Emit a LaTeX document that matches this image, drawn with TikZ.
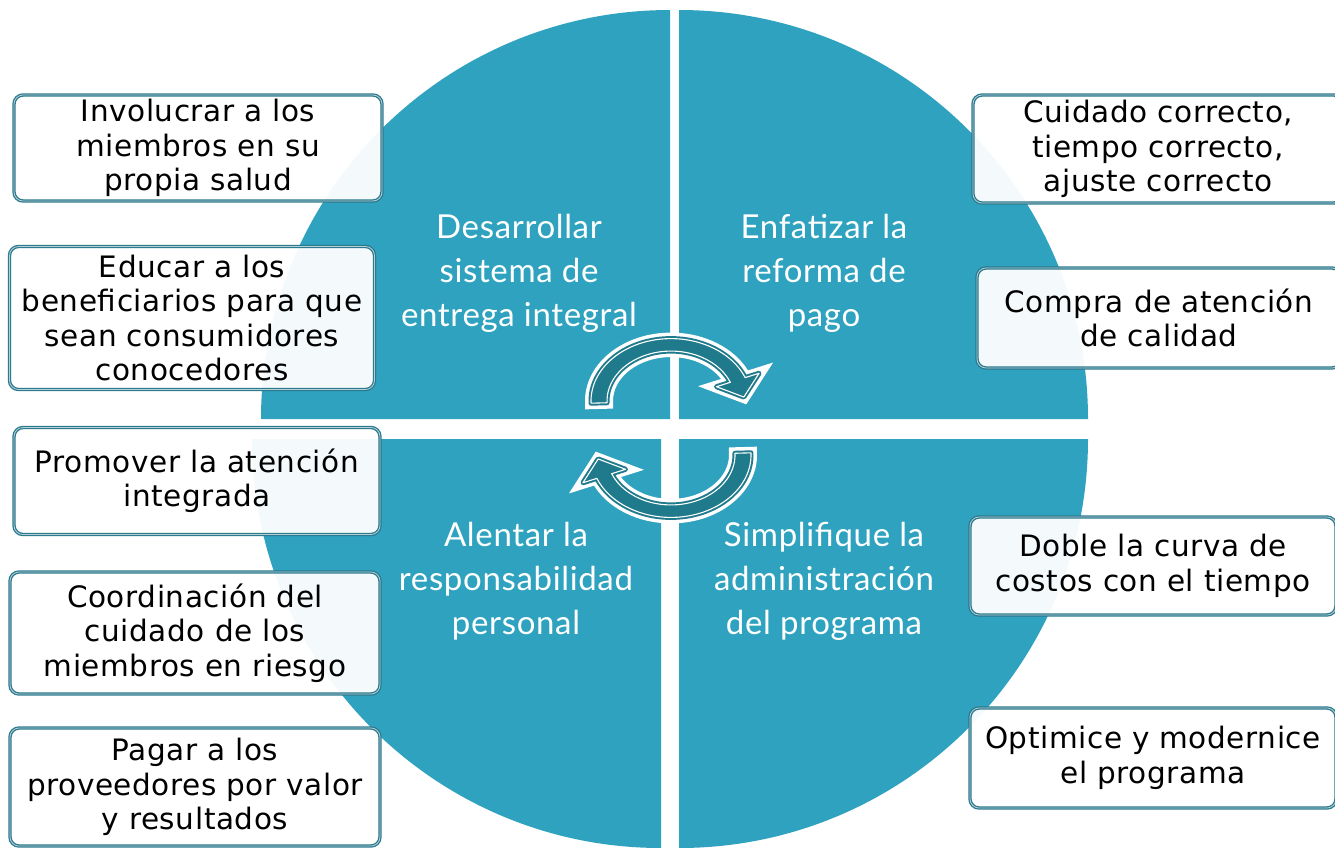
\documentclass[tikz,border=0pt]{standalone}
\usepackage{fontspec}
\setmainfont{DejaVu Sans}[LetterSpace=2]
\newfontfamily\quadfamily{Lato}[LetterSpace=2]

\definecolor{quadteal}{RGB}{46,162,190}
\definecolor{arrowteal}{RGB}{31,122,140}
\definecolor{boxedge}{RGB}{44,122,142}

\tikzset{
    turn/.pic={
        \path[yscale=-0.78, line join=round,
            preaction={draw=white, fill=white, line width=12pt},
            fill=arrowteal, draw=arrowteal, line width=5pt,
            postaction={draw=white, line width=1.1pt}]
            (182:80) arc[start angle=182, end angle=22, radius=80]
            -- (22:95) -- (4:73) -- (22:49) -- (22:64)
            arc[start angle=22, end angle=182, radius=64] -- cycle;
    }
}

\begin{document}
\begin{tikzpicture}[
            x = 1pt, y = -1pt, % pixel grid, y going down
            quad/.style = {fill = quadteal},
            quadlabel/.style = {
                text = white,
                align = center,
                font = \quadfamily\fontsize{33}{44}\selectfont
            },
            box/.style = {
                draw = boxedge,
                double = boxedge!35,
                double distance = 0.8pt,
                line width = 1.3pt,
                rounded corners = 9pt,
                fill = white,
                fill opacity = 0.95,
                text opacity = 1,
                inner sep = 0pt,
                align = center,
                font = \fontsize{29.5}{34.5}\selectfont
            }
        ]

        \useasboundingbox (0,0) rectangle (1335,847);

        % four quarters of the wheel
        \fill[quad] (670,419) -- ++(-409,0) arc[start angle=180, end angle=270, radius=409] -- cycle;
        \fill[quad] (679,419) -- ++(0,-409) arc[start angle=270, end angle=360, radius=409] -- cycle;
        \fill[quad] (679,439) -- ++(409,0) arc[start angle=0, end angle=90, radius=409] -- cycle;
        \fill[quad] (661,439) -- ++(0,409) arc[start angle=90, end angle=180, radius=409] -- cycle;

        \node[quadlabel] (dev) at (519,273) {Desarrollar\\sistema de\\entrega integral};
        \node[quadlabel] (pay) at (824,273) {Enfatizar la\\reforma de\\pago};
        \node[quadlabel] (resp) at (516,581) {Alentar la\\responsabilidad\\personal};
        \node[quadlabel] (admin) at (824,581) {Simplifique la\\administración\\del programa};

        % cycle arrows
        \pic at (671,401) {turn};
        \pic[rotate=180] at (671,455) {turn};

        % left column
        \node[box, minimum width=368pt, minimum height=106pt] (members) at (198,148) {Involucrar a los\\miembros en su\\propia salud};
        \node[box, minimum width=365pt, minimum height=143pt] (educate) at (192,318) {Educar a los\\beneficiarios para que\\sean consumidores\\conocedores};
        \node[box, minimum width=366pt, minimum height=107pt] (promote) at (197,481) {Promover la atención\\integrada};
        \node[box, minimum width=370pt, minimum height=122pt] (coord) at (195,633) {Coordinación del\\cuidado de los\\miembros en riesgo};
        \node[box, minimum width=370pt, minimum height=118pt] (providers) at (195,787) {Pagar a los\\proveedores por valor\\y resultados};

        % right column
        \node[box, minimum width=370pt, minimum height=108pt] (right) at (1158,149) {Cuidado correcto,\\tiempo correcto,\\ajuste correcto};
        \node[box, minimum width=364pt, minimum height=100pt] (quality) at (1159,318) {Compra de atención\\de calidad};
        \node[box, minimum width=366pt, minimum height=98pt] (curve) at (1153,566) {Doble la curva de\\costos con el tiempo};
        \node[box, minimum width=366pt, minimum height=100pt] (modern) at (1153,758) {Optimice y modernice\\el programa};

    \end{tikzpicture}
\end{document}
